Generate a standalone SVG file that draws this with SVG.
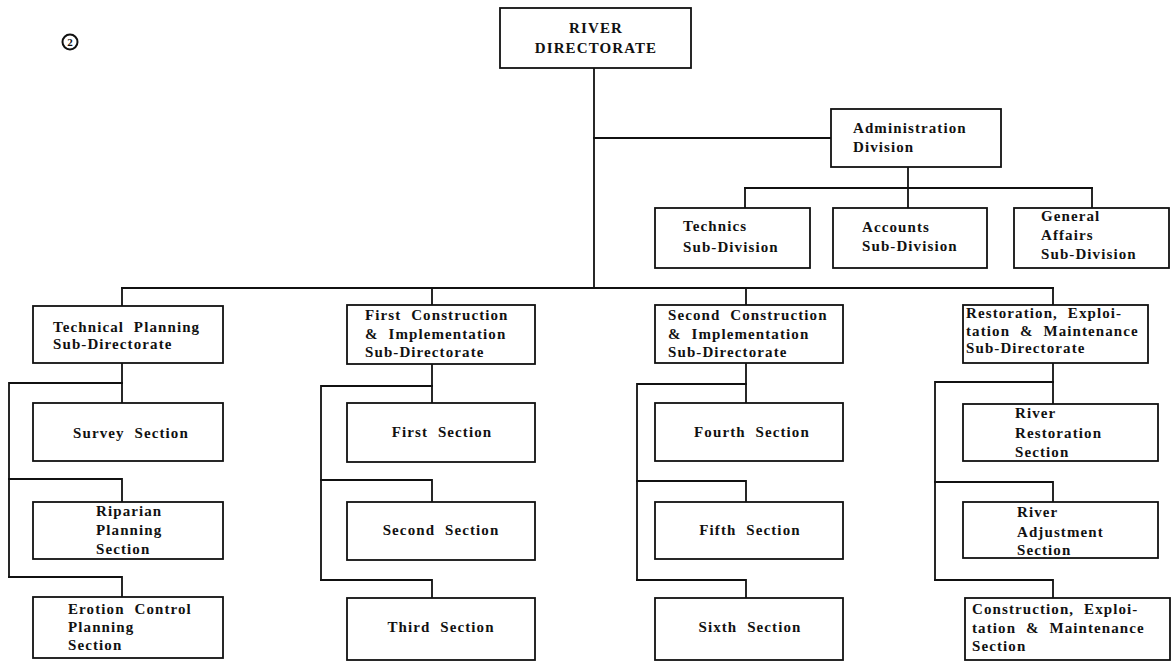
<svg xmlns="http://www.w3.org/2000/svg" width="1171" height="662" viewBox="0 0 1171 662">
  <style>
    .box { fill: #ffffff; stroke: #111111; stroke-width: 1.8; }
    .wire { fill: none; stroke: #111111; stroke-width: 1.8; stroke-linejoin: miter; stroke-linecap: square; }
    text { font-family: "Liberation Serif", "DejaVu Serif", serif; font-weight: bold; font-size: 15px; fill: #111111; letter-spacing: 1.1px; word-spacing: 5px; }
    .c { text-anchor: middle; }
  </style>
  <rect width="1171" height="662" fill="#ffffff"/>

  <!-- sheet number -->
  <g id="sheet-number">
    <circle cx="70" cy="42" r="7.5" fill="none" stroke="#111111" stroke-width="2"/>
    <text x="70" y="46" class="c" style="font-size:11px;letter-spacing:0">2</text>
  </g>

  <!-- connectors -->
  <g id="connectors" class="wire">
    <!-- trunk and administration branch -->
    <path d="M594 68 V288"/>
    <path d="M594 138 H831"/>
    <path d="M908 167 V188"/>
    <path d="M745 188 H1092"/>
    <path d="M745 188 V208 M908 188 V208 M1092 188 V208"/>
    <!-- bus to sub-directorates -->
    <path d="M122 288 H1053"/>
    <path d="M122 288 V306 M432 288 V305 M746 288 V305 M1053 288 V305"/>
    <!-- technical planning column -->
    <path d="M122 363 V403"/>
    <path d="M122 383 H9 V577"/>
    <path d="M9 479 H122 V502"/>
    <path d="M9 577 H122 V597"/>
    <!-- first construction column -->
    <path d="M432 364 V403"/>
    <path d="M432 386 H321 V580"/>
    <path d="M321 480 H432 V502"/>
    <path d="M321 580 H432 V598"/>
    <!-- second construction column -->
    <path d="M746 363 V403"/>
    <path d="M746 384 H637 V580"/>
    <path d="M637 481 H746 V502"/>
    <path d="M637 580 H746 V598"/>
    <!-- restoration column -->
    <path d="M1053 363 V404"/>
    <path d="M1053 382 H935 V580"/>
    <path d="M935 482 H1053 V502"/>
    <path d="M935 580 H1053 V598"/>
  </g>

  <g id="river-directorate">
    <rect class="box" x="500" y="8" width="191" height="60"/>
    <text x="596" y="33" class="c">RIVER</text>
    <text x="596" y="53" class="c">DIRECTORATE</text>
  </g>

  <g id="administration-division">
    <rect class="box" x="831" y="109" width="170" height="58"/>
    <text x="853" y="133">Administration</text>
    <text x="853" y="152">Division</text>
  </g>

  <g id="technics-sub-division">
    <rect class="box" x="655" y="208" width="155" height="60"/>
    <text x="683" y="231">Technics</text>
    <text x="683" y="252">Sub-Division</text>
  </g>

  <g id="accounts-sub-division">
    <rect class="box" x="833" y="208" width="154" height="60"/>
    <text x="862" y="232">Accounts</text>
    <text x="862" y="251">Sub-Division</text>
  </g>

  <g id="general-affairs-sub-division">
    <rect class="box" x="1014" y="208" width="155" height="60"/>
    <text x="1041" y="221">General</text>
    <text x="1041" y="240">Affairs</text>
    <text x="1041" y="259">Sub-Division</text>
  </g>

  <!-- technical planning column -->
  <g id="technical-planning">
    <rect class="box" x="33" y="306" width="190" height="57"/>
    <text x="53" y="332">Technical Planning</text>
    <text x="53" y="349">Sub-Directorate</text>
  </g>
  <g id="survey-section">
    <rect class="box" x="33" y="403" width="190" height="58"/>
    <text x="131" y="438" class="c">Survey Section</text>
  </g>
  <g id="riparian-planning-section">
    <rect class="box" x="33" y="502" width="190" height="57"/>
    <text x="96" y="516">Riparian</text>
    <text x="96" y="535">Planning</text>
    <text x="96" y="554">Section</text>
  </g>
  <g id="erotion-control-planning-section">
    <rect class="box" x="33" y="597" width="190" height="61"/>
    <text x="68" y="614">Erotion Control</text>
    <text x="68" y="632">Planning</text>
    <text x="68" y="650">Section</text>
  </g>

  <!-- first construction column -->
  <g id="first-construction">
    <rect class="box" x="347" y="305" width="188" height="59"/>
    <text x="365" y="320">First Construction</text>
    <text x="365" y="339">&amp; Implementation</text>
    <text x="365" y="357">Sub-Directorate</text>
  </g>
  <g id="first-section">
    <rect class="box" x="347" y="403" width="188" height="59"/>
    <text x="442" y="437" class="c">First Section</text>
  </g>
  <g id="second-section">
    <rect class="box" x="347" y="502" width="188" height="58"/>
    <text x="441" y="535" class="c">Second Section</text>
  </g>
  <g id="third-section">
    <rect class="box" x="347" y="598" width="188" height="62"/>
    <text x="441" y="632" class="c">Third Section</text>
  </g>

  <!-- second construction column -->
  <g id="second-construction">
    <rect class="box" x="655" y="305" width="188" height="58"/>
    <text x="668" y="320">Second Construction</text>
    <text x="668" y="339">&amp; Implementation</text>
    <text x="668" y="357">Sub-Directorate</text>
  </g>
  <g id="fourth-section">
    <rect class="box" x="655" y="403" width="188" height="58"/>
    <text x="752" y="437" class="c">Fourth Section</text>
  </g>
  <g id="fifth-section">
    <rect class="box" x="655" y="502" width="188" height="57"/>
    <text x="750" y="535" class="c">Fifth Section</text>
  </g>
  <g id="sixth-section">
    <rect class="box" x="655" y="598" width="188" height="62"/>
    <text x="750" y="632" class="c">Sixth Section</text>
  </g>

  <!-- restoration column -->
  <g id="restoration-exploitation-maintenance">
    <rect class="box" x="963" y="305" width="185" height="58"/>
    <text x="966" y="318">Restoration, Exploi-</text>
    <text x="966" y="336">tation &amp; Maintenance</text>
    <text x="966" y="353">Sub-Directorate</text>
  </g>
  <g id="river-restoration-section">
    <rect class="box" x="963" y="404" width="195" height="57"/>
    <text x="1015" y="418">River</text>
    <text x="1015" y="438">Restoration</text>
    <text x="1015" y="457">Section</text>
  </g>
  <g id="river-adjustment-section">
    <rect class="box" x="963" y="502" width="195" height="56"/>
    <text x="1017" y="517">River</text>
    <text x="1017" y="537">Adjustment</text>
    <text x="1017" y="555">Section</text>
  </g>
  <g id="construction-exploitation-maintenance-section">
    <rect class="box" x="965" y="598" width="205" height="62"/>
    <text x="972" y="614">Construction, Exploi-</text>
    <text x="972" y="633">tation &amp; Maintenance</text>
    <text x="972" y="651">Section</text>
  </g>
</svg>
